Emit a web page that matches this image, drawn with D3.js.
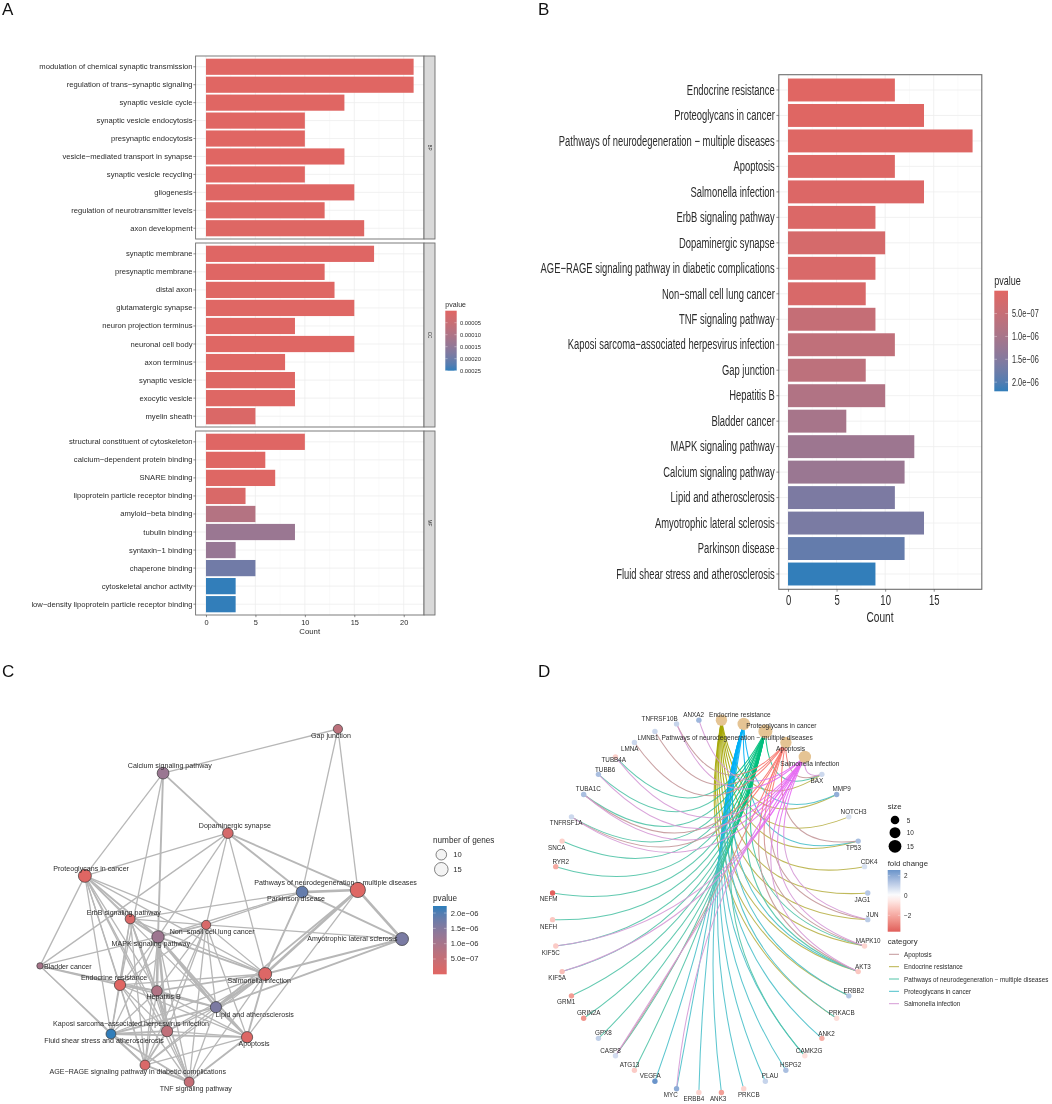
<!DOCTYPE html>
<html><head><meta charset="utf-8">
<script src="https://cdn.jsdelivr.net/npm/d3@7"></script>
<style>
html,body{margin:0;padding:0;background:#fff}
svg{display:block;filter:blur(.35px)}
text{font-family:"Liberation Sans",Arial,sans-serif}
</style></head><body><svg id="c" width="1052" height="1104"></svg>
<script>
// ---------- Panel A data
const bpTerms=["modulation of chemical synaptic transmission","regulation of trans−synaptic signaling","synaptic vesicle cycle","synaptic vesicle endocytosis","presynaptic endocytosis","vesicle−mediated transport in synapse","synaptic vesicle recycling","gliogenesis","regulation of neurotransmitter levels","axon development"];
const bpCounts=[21,21,14,10,10,14,10,15,12,16];
const bpP=[1e-7,1e-7,2e-7,5e-7,5e-7,8e-7,1e-6,2e-6,3e-6,4e-6];
const ccTerms=["synaptic membrane","presynaptic membrane","distal axon","glutamatergic synapse","neuron projection terminus","neuronal cell body","axon terminus","synaptic vesicle","exocytic vesicle","myelin sheath"];
const ccCounts=[17,12,13,15,9,15,8,9,9,5];
const ccP=[2e-6,2e-6,3e-6,3e-6,3e-6,3e-6,3e-6,4e-6,4e-6,1.2e-5];
const mfTerms=["structural constituent of cytoskeleton","calcium−dependent protein binding","SNARE binding","lipoprotein particle receptor binding","amyloid−beta binding","tubulin binding","syntaxin−1 binding","chaperone binding","cytoskeletal anchor activity","low−density lipoprotein particle receptor binding"];
const mfCounts=[10,6,7,4,5,9,3,5,3,3];
const mfP=[2e-6,3e-6,4e-6,1.5e-5,9e-5,1.35e-4,1.4e-4,1.95e-4,2.5e-4,2.5e-4];
const goTicks=[0,5,10,15,20];
const goLegend=[0.00005,0.0001,0.00015,0.0002,0.00025];
// ---------- Panel B data
const keggTerms=["Endocrine resistance","Proteoglycans in cancer","Pathways of neurodegeneration − multiple diseases","Apoptosis","Salmonella infection","ErbB signaling pathway","Dopaminergic synapse","AGE−RAGE signaling pathway in diabetic complications","Non−small cell lung cancer","TNF signaling pathway","Kaposi sarcoma−associated herpesvirus infection","Gap junction","Hepatitis B","Bladder cancer","MAPK signaling pathway","Calcium signaling pathway","Lipid and atherosclerosis","Amyotrophic lateral sclerosis","Parkinson disease","Fluid shear stress and atherosclerosis"];
const keggCounts=[11,14,19,11,14,9,10,9,8,9,11,8,10,6,13,12,11,14,12,9];
const keggP=[1e-8,2e-8,4e-8,6e-8,8e-8,1e-7,2.2e-7,1.5e-7,1.6e-7,5e-7,6e-7,6.5e-7,8.5e-7,1e-6,1.15e-6,1.2e-6,1.6e-6,1.62e-6,1.85e-6,2.2e-6];
const keggTicks=[0,5,10,15];
const keggLegend=[5e-7,1e-6,1.5e-6,2e-6];
// ---------- Panel C data (network layout units 0-100)
const netNames=["Gap junction","Calcium signaling pathway","Dopaminergic synapse","Proteoglycans in cancer","Pathways of neurodegeneration − multiple diseases","Parkinson disease","Amyotrophic lateral sclerosis","Salmonella infection","ErbB signaling pathway","Non−small cell lung cancer","MAPK signaling pathway","Bladder cancer","Endocrine resistance","Hepatitis B","Lipid and atherosclerosis","Kaposi sarcoma−associated herpesvirus infection","Fluid shear stress and atherosclerosis","Apoptosis","AGE−RAGE signaling pathway in diabetic complications","TNF signaling pathway"];
const netKeys=["Gap","Cal","Dop","Pro","Pat","Par","ALS","Sal","Erb","Non","Map","Bla","End","Hep","Lip","Kap","Flu","Apo","Age","Tnf"];
const netLayoutX=[82.3,34.0,51.9,12.4,87.8,72.4,100,62.2,24.9,45.9,32.6,0,22.1,32.3,48.6,35.1,19.6,57.2,29.0,41.2];
const netLayoutY=[0,12.5,29.5,41.6,45.6,46.2,59.5,69.4,53.8,55.5,58.9,67.1,72.5,74.2,78.8,85.6,86.4,87.3,95.2,100];
const netEdgesThin="Gap-Cal Gap-Par Gap-Pat Cal-Pro Cal-End Dop-Pro Dop-Bla Dop-Map Dop-Non Dop-Sal Pro-Erb Pro-Non Pro-Bla Pro-Hep Pro-Apo Pro-Sal Pro-Kap Pro-Flu Pro-End Pro-Age Pro-Tnf Pat-Apo Par-Non Par-Erb Par-Map Non-ALS Sal-Non Sal-Erb Sal-End Sal-Kap Sal-Flu Sal-Age Sal-Tnf Erb-Non Erb-End Erb-Hep Erb-Kap Erb-Flu Erb-Age Erb-Tnf Non-End Non-Hep Non-Kap Non-Lip Non-Apo Non-Age Non-Tnf Map-Bla Map-End Map-Flu Map-Age Map-Tnf Bla-Hep Bla-Flu Bla-Age End-Lip End-Kap End-Flu End-Apo End-Age End-Tnf Hep-Flu Hep-Apo Hep-Age Hep-Tnf Lip-Kap Lip-Age Lip-Tnf Kap-Apo Kap-Tnf Apo-Age".split(" ");
const netEdgesMid="Cal-Dop Dop-Pat Par-ALS Pat-Lip Sal-ALS ALS-Lip Sal-Apo Sal-Map Sal-Hep Erb-Map Non-Map Map-Apo Bla-End End-Hep Hep-Lip Hep-Kap Kap-Flu Kap-Age Flu-Age Flu-Tnf Apo-Tnf Age-Tnf Lip-Flu Lip-Apo Flu-Apo Dop-Par Cal-Map Pro-Map Par-Sal".split(" ");
const netEdgesThick="Pat-Par Pat-ALS Pat-Sal Sal-Lip Map-Hep Map-Lip Map-Kap".split(" ");
const netLabelDX=[-7,6.7,7,6.2,-22.3,-6,-49.7,-6,-6.3,6,-7.2,27.8,-6,6.7,38.7,-36,-7,7,-7.2,6.7];
const netLabelDY=[6.7,-7,-6.7,-6.7,-7,6.7,0,7,-6.3,7,6.7,.7,-6.7,6.3,7.7,-6.7,6.7,7,7.3,6.7];
const netSizeLegend=[10,15];
// ---------- Panel D data
const cnetCats=["Endocrine resistance","Proteoglycans in cancer","Pathways of neurodegeneration − multiple diseases","Apoptosis","Salmonella infection"];
const cnetGenes=["BAX","MMP9","NOTCH3","TP53","CDK4","JAG1","JUN","MAPK10","AKT3","ERBB2","PRKACB","ANK2","CAMK2G","HSPG2","PLAU","PRKCB","ANK3","ERBB4","MYC","VEGFA","ATG13","CASP8","GPX8","GRIN2A","GRM1","KIF5A","KIF5C","NEFH","NEFM","RYR2","SNCA","TNFRSF1A","TUBA1C","TUBB6","TUBB4A","LMNA","LMNB1","TNFRSF10B","ANXA2"];
const foldChange=[.9,1.9,.7,1.5,.7,1.3,1.2,-1,-1.3,1.3,-.8,-1.9,-.7,1.5,1,-1,-2.2,-1,2,2.57,-1.2,.8,1.1,-2.4,-2.3,-1.5,-1.2,-1.3,-3.6,-2,-1.1,.9,1.5,1.5,-1.1,.9,.9,1,1.7];
const endocrineGenes=["BAX","MMP9","NOTCH3","TP53","CDK4","JAG1","JUN","MAPK10","AKT3","ERBB2","PRKACB"];
const proteoGenes=["MMP9","TP53","ERBB2","ERBB4","PRKACB","CAMK2G","HSPG2","PLAU","PRKCB","ANK2","ANK3","MYC","VEGFA","AKT3"];
const neuroGenes=["TUBB4A","TUBB6","TUBA1C","TNFRSF1A","SNCA","RYR2","NEFM","NEFH","KIF5C","KIF5A","GRM1","GRIN2A","GPX8","CASP8","ATG13","MAPK10","AKT3","BAX","CAMK2G"];
const apoptosisGenes=["TNFRSF10B","LMNB1","LMNA","TUBA1C","TNFRSF1A","CASP8","BAX","TP53","MAPK10","AKT3","JUN"];
const salmonellaGenes=["ANXA2","TUBB4A","TUBB6","TUBA1C","TNFRSF1A","KIF5C","KIF5A","CASP8","BAX","MAPK10","AKT3","JUN","TNFRSF10B","MYC"];
const legendCategories=["Apoptosis","Endocrine resistance","Pathways of neurodegeneration − multiple diseases","Proteoglycans in cancer","Salmonella infection"];
const sizeLegend=[5,10,15];
const foldLegend=[2,0,-2];
// label offsets relative to node (layout, not data)
const geneLabelDX=[-5,5,4.7,-4.6,4.6,-5.3,4.7,3.6,4.7,5,5,4.7,4.3,4.7,4.6,5,-3.3,-5,-5.7,-4.7,-5,-5,5,5,-5.3,-5,-5,-4,-4,5,-5.3,-5.4,4.6,6.7,-1.7,-4.6,-7,-17,-5.3];
const geneLabelDY=[5.7,-6,-5.7,6,-5.3,6,-5.6,-5.7,-5.3,-5.7,-5.3,-5.3,-5.4,-5.6,-5.3,5.7,6,6,5.7,-5.3,-5.6,-5.4,-6,-5.7,6,6,6,6.4,5.6,-5.6,6,6,-5.6,-5.3,2.3,6,5.6,-5,-5.6];
const catLabelDX=[18.4,37.6,-28.3,4.7,5];
const catLabelDY=[-6,2,5.7,5.7,6.3];

const svg=d3.select("#c");
const defs=svg.append("defs");
const RED="#e06663",BLUE="#327eba",GRID="#eeeeee",GRIDMIN="#f6f6f6",BORDER="#6e6e6e",INK="#2b2b2b";

function txt(g,x,y,s,opt={}){
  const sx=opt.sx||1;
  return g.append("text").attr("transform",`translate(${x},${y}) scale(${sx},1)`+(opt.rot?` rotate(${opt.rot})`:""))
    .attr("text-anchor",opt.anchor||"start").attr("dominant-baseline","central")
    .attr("font-size",opt.fs||8).attr("fill",opt.fill||INK).text(s);
}

function barPanel(o){
  const g=svg.append("g");
  const y=d3.scaleBand().domain(o.names).range([o.top,o.bottom]).paddingInner(.1).paddingOuter(.15);
  const x=o.x;
  const [l,r]=x.range();
  g.append("rect").attr("x",l).attr("y",o.top).attr("width",r-l).attr("height",o.bottom-o.top).attr("fill","#fff");
  const minor=[];o.ticks.forEach(t=>minor.push(t+o.ticks[1]/2));
  g.selectAll(".gm").data(minor.filter(t=>x(t)<r)).join("line").attr("x1",d=>x(d)).attr("x2",d=>x(d)).attr("y1",o.top).attr("y2",o.bottom).attr("stroke",GRIDMIN).attr("stroke-width",.6);
  g.selectAll(".gx").data(o.ticks).join("line").attr("x1",d=>x(d)).attr("x2",d=>x(d)).attr("y1",o.top).attr("y2",o.bottom).attr("stroke",GRID).attr("stroke-width",.8);
  g.selectAll(".gy").data(o.names).join("line").attr("x1",l).attr("x2",r).attr("y1",d=>y(d)+y.bandwidth()/2).attr("y2",d=>y(d)+y.bandwidth()/2).attr("stroke",GRID).attr("stroke-width",.8);
  g.selectAll(".bar").data(o.names).join("rect").attr("x",x(0)).attr("y",d=>y(d))
    .attr("width",(d,i)=>x(o.counts[i])-x(0)).attr("height",y.bandwidth()).attr("fill",(d,i)=>o.colour(o.ps[i]));
  g.append("rect").attr("x",l).attr("y",o.top).attr("width",r-l).attr("height",o.bottom-o.top).attr("fill","none").attr("stroke",BORDER).attr("stroke-width",o.bw||1);
  const ax=g.append("g").attr("transform",`translate(${l},0)`).call(d3.axisLeft(y).tickSize(o.tick).tickSizeOuter(0).tickPadding(0));
  ax.select(".domain").remove();
  ax.selectAll("line").attr("stroke","#444").attr("stroke-width",.6);
  ax.selectAll("text").attr("x",0).attr("dy",null).attr("dominant-baseline","central").attr("text-anchor","end")
    .attr("transform",`translate(${-o.tick-o.pad},0) scale(${o.sx},1)`).attr("font-size",o.fs).attr("fill",INK);
  return g;
}
function xAxis(o){
  const g=svg.append("g").attr("transform",`translate(0,${o.y})`).call(d3.axisBottom(o.x).tickValues(o.ticks).tickSize(o.tick).tickSizeOuter(0).tickFormat(d3.format("d")));
  g.select(".domain").remove();
  g.selectAll("line").attr("stroke","#444").attr("stroke-width",.6);
  g.selectAll("text").attr("y",0).attr("dy",null).attr("dominant-baseline","central")
    .attr("transform",`translate(0,${o.ly}) scale(${o.sx},1)`).attr("font-size",o.fs).attr("fill",INK);
}
let gid=0;
function colorbar(o){
  const id="cb"+(gid++);
  const lg=defs.append("linearGradient").attr("id",id).attr("x1",0).attr("x2",0).attr("y1",0).attr("y2",1);
  const ys=d3.scaleLinear().domain([o.d0,o.d1]).range([o.y,o.y+o.h]);
  d3.range(0,1.0001,.1).forEach(t=>{
    const v=o.d0+(o.d1-o.d0)*t;
    lg.append("stop").attr("offset",t).attr("stop-color",o.colour(v));
  });
  svg.append("rect").attr("x",o.x).attr("y",o.y).attr("width",o.w).attr("height",o.h).attr("fill",`url(#${id})`);
  o.ticks.forEach(t=>{
    const yy=ys(t);
    [[o.x,o.x+o.w*.2],[o.x+o.w*.8,o.x+o.w]].forEach(p=>svg.append("line").attr("x1",p[0]).attr("x2",p[1]).attr("y1",yy).attr("y2",yy).attr("stroke","#fff").attr("stroke-width",.5).attr("stroke-opacity",.7));
    txt(svg,o.lx,yy,o.fmt(t),{fs:o.fs,sx:o.sx});
  });
}
const fmtE=v=>{const s=v.toExponential(1).replace("e-","e−0");return s;};

// ---------- Panel A
const pA=d3.scaleLinear().domain([1e-7,2.5e-4]).range([RED,BLUE]).interpolate(d3.interpolateLab);
const xA=d3.scaleLinear().domain([-1.05,22.05]).range([195.6,424]);
[[bpTerms,bpCounts,bpP,56,239,"BP"],[ccTerms,ccCounts,ccP,243,427,"CC"],[mfTerms,mfCounts,mfP,431,615,"MF"]].forEach(p=>{
  barPanel({names:p[0],counts:p[1],ps:p[2],top:p[3],bottom:p[4],x:xA,ticks:goTicks,colour:pA,tick:2.2,pad:.8,fs:7.65,sx:1,bw:.9});
  svg.append("rect").attr("x",424).attr("y",p[3]).attr("width",11).attr("height",p[4]-p[3]).attr("fill","#d9d9d9").attr("stroke",BORDER).attr("stroke-width",.9);
  txt(svg,429.7,(p[3]+p[4])/2,p[5],{fs:4.6,anchor:"middle",rot:90});
});
xAxis({x:xA,y:615,ticks:goTicks,tick:2.2,ly:7,sx:1,fs:7.4});
txt(svg,309.7,631.7,"Count",{fs:7.8,anchor:"middle"});
txt(svg,445.3,304,"pvalue",{fs:7});
colorbar({x:445.3,y:310.7,w:11.4,h:60,d0:0,d1:.00025,colour:pA,ticks:goLegend,lx:460,fs:5.8,fmt:d3.format(".5f")});

// ---------- Panel B
const pB=d3.scaleLinear().domain([1e-8,2.2e-6]).range([RED,BLUE]).interpolate(d3.interpolateLab);
const xB=d3.scaleLinear().domain([-.95,19.95]).range([778.8,981.8]);
barPanel({names:keggTerms,counts:keggCounts,ps:keggP,top:74.7,bottom:589.3,x:xB,ticks:keggTicks,colour:pB,tick:2.4,pad:1.6,fs:14.5,sx:.65,bw:1.1});
xAxis({x:xB,y:589.3,ticks:keggTicks,tick:2.4,ly:11.5,sx:.68,fs:14});
txt(svg,880,617,"Count",{fs:14.5,anchor:"middle",sx:.7});
txt(svg,994.3,280,"pvalue",{fs:12,sx:.75});
colorbar({x:994.3,y:290.7,w:13.7,h:100.6,d0:0,d1:2.2e-6,colour:pB,ticks:keggLegend,lx:1012,fs:10.5,sx:.7,fmt:fmtE});

// ---------- Panel C
const xC=d3.scaleLinear().domain([0,100]).range([40,402]);
const yC=d3.scaleLinear().domain([0,100]).range([729,1082]);
const rC=d3.scaleLinear().domain([6,8,10,15,19]).range([3.2,4.6,5.3,6.8,7.6]);
const netNodes=netNames.map((n,i)=>{const k=keggTerms.indexOf(n);return {name:n,key:netKeys[i],x:xC(netLayoutX[i]),y:yC(netLayoutY[i]),count:keggCounts[k],p:keggP[k],dx:netLabelDX[i],dy:netLabelDY[i]};});
const byKey=Object.fromEntries(netNodes.map(n=>[n.key,n]));
const gC=svg.append("g");
[[netEdgesThin,1.3],[netEdgesMid,1.9],[netEdgesThick,2.6]].forEach(([list,w])=>{
  gC.append("g").selectAll("line").data(list).join("line")
    .attr("x1",d=>byKey[d.split("-")[0]].x).attr("y1",d=>byKey[d.split("-")[0]].y)
    .attr("x2",d=>byKey[d.split("-")[1]].x).attr("y2",d=>byKey[d.split("-")[1]].y)
    .attr("stroke","#b7b7b7").attr("stroke-width",w);
});
gC.append("g").selectAll("circle").data(netNodes).join("circle").attr("cx",d=>d.x).attr("cy",d=>d.y).attr("r",d=>rC(d.count))
  .attr("fill",d=>pB(d.p)).attr("stroke","#3a3a3a").attr("stroke-width",.7);
netNodes.forEach(n=>txt(gC,n.x+n.dx,n.y+n.dy,n.name,{fs:7.1,anchor:"middle"}));
txt(svg,433,840.3,"number of genes",{fs:8.2});
netSizeLegend.forEach((v,i)=>{
  const yy=[854.7,869.3][i];
  svg.append("circle").attr("cx",441.3).attr("cy",yy).attr("r",rC(v)).attr("fill","#f4f4f4").attr("stroke","#333").attr("stroke-width",.6);
  txt(svg,453.3,yy,String(v),{fs:7.6});
});
txt(svg,433,898.7,"pvalue",{fs:8.2});
colorbar({x:433,y:906,w:13.7,h:68.3,d0:2.23e-6,d1:0,colour:pB,ticks:keggLegend,lx:450.7,fs:7.6,fmt:fmtE});

// ---------- Panel D
const cx=710.15,cy=906.35;
const xD=d3.scaleLinear().domain([-1,1]).range([cx-158,cx+158]);
const yD=d3.scaleLinear().domain([-1,1]).range([cy-186.7,cy+186.7]);
const allNodes=cnetCats.concat(cnetGenes);
const angle=d3.scaleLinear().domain([0,allNodes.length]).range([0,2*Math.PI]);
const pos=n=>{const a=angle(allNodes.indexOf(n)+.5);return [xD(Math.sin(a)),yD(-Math.cos(a))];};
const catStyle={"Endocrine resistance":["#a3a500","#b9b24a"],"Proteoglycans in cancer":["#00b0f6","#4cc0ca"],"Pathways of neurodegeneration − multiple diseases":["#00bf7d","#52c4a8"],"Apoptosis":["#f8766d","#c4989a"],"Salmonella infection":["#e76bf3","#d59ad6"]};
const memberships=[["Endocrine resistance",endocrineGenes],["Proteoglycans in cancer",proteoGenes],["Pathways of neurodegeneration − multiple diseases",neuroGenes],["Apoptosis",apoptosisGenes],["Salmonella infection",salmonellaGenes]];
const gD=svg.append("g");
let eid=0;
memberships.forEach(([cat,genes])=>{
  const [h,m]=catStyle[cat];
  const [hx,hy]=pos(cat);
  genes.forEach(g=>{
    const [gx,gy]=pos(g);
    const id="e"+(eid++);
    const lg=defs.append("linearGradient").attr("id",id).attr("gradientUnits","userSpaceOnUse").attr("x1",hx).attr("y1",hy).attr("x2",gx).attr("y2",gy);
    lg.append("stop").attr("offset",0).attr("stop-color",h);
    lg.append("stop").attr("offset",.2).attr("stop-color",h);
    lg.append("stop").attr("offset",.45).attr("stop-color",m);
    // arc bends toward the circle centre, more for longer chords
    const mx=(hx+gx)/2,my=(hy+gy)/2,chord=Math.hypot(gx-hx,gy-hy),f=2*.00215*chord;
    const p=d3.path();p.moveTo(hx,hy);p.quadraticCurveTo(mx+(xD(0)-mx)*f,my+(yD(0)-my)*f,gx,gy);
    gD.append("path").attr("d",p.toString()).attr("fill","none").attr("stroke",`url(#${id})`).attr("stroke-width",1.05).attr("stroke-opacity",.9);
  });
});
const sD=d3.scaleSqrt().domain([1,19]).range([2.7,7]);
const foldCol=d3.scaleLinear().domain([-3.65,0,2.57]).range(["#e05e5a","#ffffff","#6a94ca"]).interpolate(d3.interpolateLab);
cnetGenes.forEach((g,i)=>{
  const [x,y]=pos(g);
  gD.append("circle").attr("cx",x).attr("cy",y).attr("r",sD(1)).attr("fill",foldCol(foldChange[i]));
});
memberships.forEach(([cat,genes])=>{
  const [x,y]=pos(cat);
  gD.append("circle").attr("cx",x).attr("cy",y).attr("r",sD(genes.length)).attr("fill","#e5c494");
});
cnetGenes.forEach((g,i)=>{
  const [x,y]=pos(g);
  txt(gD,x+geneLabelDX[i],y+geneLabelDY[i],g,{fs:6.3,anchor:"middle"});
});
cnetCats.forEach((c,i)=>{
  const [x,y]=pos(c);
  txt(gD,x+catLabelDX[i],y+catLabelDY[i],c,{fs:6.6,anchor:"middle"});
});
txt(svg,887.7,806.7,"size",{fs:7.8});
sizeLegend.forEach((v,i)=>{
  const yy=[820,832.7,846.3][i];
  svg.append("circle").attr("cx",895).attr("cy",yy).attr("r",sD(v)).attr("fill","#000");
  txt(svg,906.7,yy,String(v),{fs:6.4});
});
txt(svg,887.7,863,"fold change",{fs:7.8});
colorbar({x:887.7,y:870,w:12.7,h:61.7,d0:2.57,d1:-3.65,colour:foldCol,ticks:foldLegend,lx:904,fs:6.4,fmt:d=>d<0?"−"+(-d):String(d)});
txt(svg,887.7,941,"category",{fs:7.8});
legendCategories.forEach((c,i)=>{
  const yy=[954.3,966.7,979,991.3,1003.7][i];
  svg.append("line").attr("x1",889).attr("x2",899).attr("y1",yy).attr("y2",yy).attr("stroke",catStyle[c][1]).attr("stroke-width",1);
  txt(svg,904,yy,c,{fs:6.3});
});
// ---------- Panel letters
[["A",2,9],["B",538,9],["C",2,671],["D",538,671]].forEach(l=>txt(svg,l[1],l[2],l[0],{fs:17,fill:"#111"}));
</script></body></html>
